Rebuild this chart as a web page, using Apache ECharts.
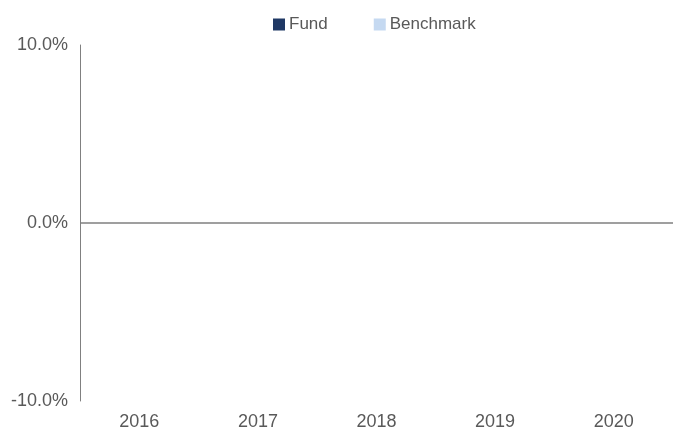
<!DOCTYPE html>
<html>
<head>
<meta charset="utf-8">
<script src="https://cdn.jsdelivr.net/npm/echarts@6/dist/echarts.min.js"></script>
<style>
  html, body { margin: 0; padding: 0; background: #fff; }
</style>
</head>
<body>
<div id="barChart" style="width: 673px;height: 432px;"></div>
<script>
// chart data (no bars are shown in the reference)
const years = ['2016', '2017', '2018', '2019', '2020']
const fundValues = [null, null, null, null, null]
const benchmarkValues = [null, null, null, null, null]
const yTicks = [-10, 0, 10]

const barChart = echarts.init(document.getElementById('barChart'))
barChart.setOption({
  animation: false,
  textStyle: { fontFamily: 'Liberation Sans, Arial, sans-serif' },
  legend: {
    top: 11,
    left: 268,
    itemWidth: 12,
    itemHeight: 12,
    itemGap: 46,
    icon: 'rect',
    textStyle: { color: '#595959', fontSize: 17, padding: [0, 0, 0, -1] },
    data: ['Fund', 'Benchmark']
  },
  grid: {
    left: 80,
    right: 0,
    top: 45,
    bottom: 31
  },
  xAxis: {
    type: 'category',
    data: years,
    axisLine: { show: false },
    axisTick: { show: false },
    axisLabel: { color: '#595959', fontSize: 18, margin: 12 }
  },
  yAxis: {
    type: 'value',
    min: yTicks[0],
    max: yTicks[yTicks.length - 1],
    interval: 10,
    axisLine: { show: true, lineStyle: { color: '#808080', width: 1 } },
    axisTick: { show: false },
    splitLine: { show: false },
    axisLabel: {
      color: '#595959',
      fontSize: 18,
      margin: 12,
      formatter: v => v.toFixed(1) + '%'
    }
  },
  series: [
    {
      name: 'Fund',
      type: 'bar',
      data: fundValues,
      itemStyle: { color: '#1f3864' },
      markLine: {
        silent: true,
        symbol: 'none',
        label: { show: false },
        lineStyle: { color: '#7f7f7f', width: 1.5, type: 'solid' },
        data: [{ yAxis: 0 }]
      }
    },
    {
      name: 'Benchmark',
      type: 'bar',
      data: benchmarkValues,
      itemStyle: { color: '#c5d9f1' }
    }
  ]
})

window.addEventListener('resize', () => {
  barChart && barChart.resize()
})
</script>
</body>
</html>
